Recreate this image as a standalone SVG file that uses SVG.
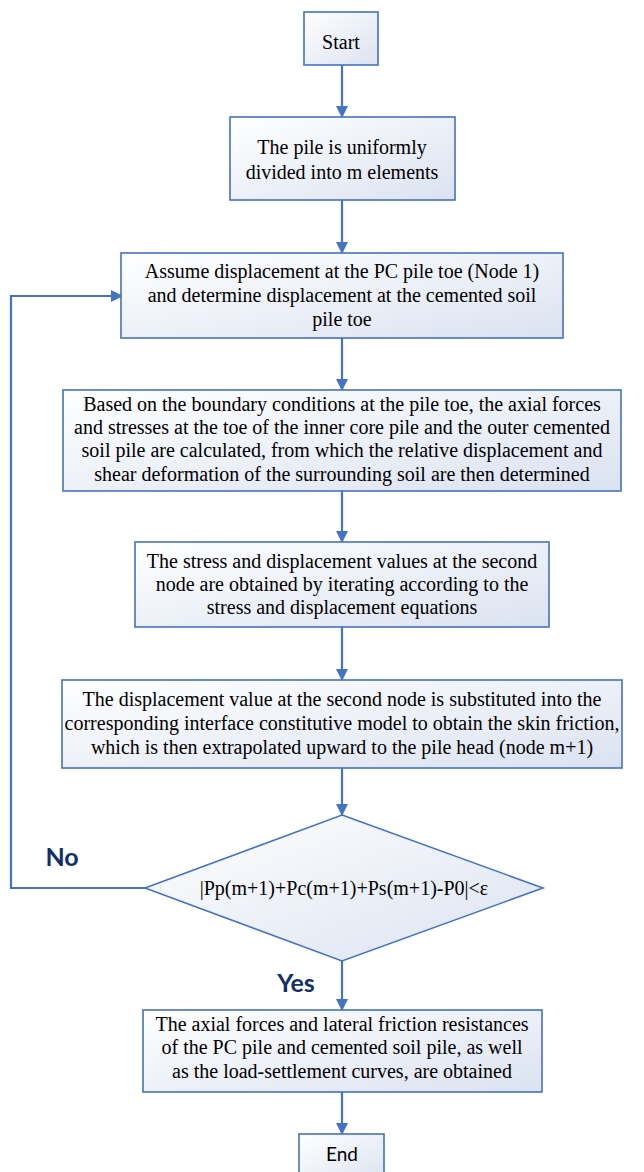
<svg xmlns="http://www.w3.org/2000/svg" width="644" height="1172" viewBox="0 0 644 1172">
<defs>
<linearGradient id="g" x1="0" y1="0" x2="1" y2="1">
<stop offset="0" stop-color="#ffffff"/>
<stop offset="1" stop-color="#dbe2f0"/>
</linearGradient>
<marker id="ah" markerWidth="12" markerHeight="12" refX="11" refY="6" orient="auto" markerUnits="userSpaceOnUse">
<path d="M0,0 L12,6 L0,12 Z" fill="#4472C4"/>
</marker>
<style>
.box{fill:url(#g);stroke:#4472C4;stroke-width:1.6}
.t{font-size:20px;fill:#000;text-anchor:middle}
.s{fill:#000;text-anchor:middle}
.lab{font-weight:bold;font-size:25px;fill:#132F6B;text-anchor:middle}
.c{fill:none;stroke:#4472C4;stroke-width:2.2}
</style>
</defs>
<g id="connectors">
<path class="c" d="M342,65 V117" marker-end="url(#ah)"/>
<path class="c" d="M342,200 V253" marker-end="url(#ah)"/>
<path class="c" d="M342,338 V390" marker-end="url(#ah)"/>
<path class="c" d="M342,491 V542" marker-end="url(#ah)"/>
<path class="c" d="M342,627 V680" marker-end="url(#ah)"/>
<path class="c" d="M342,768 V815" marker-end="url(#ah)"/>
<path class="c" d="M342,961 V1010" marker-end="url(#ah)"/>
<path class="c" d="M342,1092 V1134" marker-end="url(#ah)"/>
<path class="c" d="M145,888 H11 V296 H122" marker-end="url(#ah)"/>
<g font-family="Lato, 'Liberation Sans', sans-serif">
<text class="lab" x="62" y="866">No</text>
<text class="lab" x="296" y="992">Yes</text>
</g>
</g>
<g font-family="'Liberation Serif', 'DejaVu Serif', serif">
<g id="start">
<rect class="box" x="304" y="12" width="74" height="53"/>
<text class="t" x="341" y="49">Start</text>
</g>
<g id="divide">
<rect class="box" x="230" y="117" width="225" height="83"/>
<text class="t" x="342" y="154">The pile is uniformly</text>
<text class="t" x="342" y="179">divided into m elements</text>
</g>
<g id="assume">
<rect class="box" x="121" y="253" width="442" height="85"/>
<text class="t" x="342" y="278">Assume displacement at the PC pile toe (Node 1)</text>
<text class="t" x="342" y="302">and determine displacement at the cemented soil</text>
<text class="t" x="342" y="326">pile toe</text>
</g>
<g id="boundary">
<rect class="box" x="63" y="390" width="558" height="101"/>
<text class="t" x="342" y="411">Based on the boundary conditions at the pile toe, the axial forces</text>
<text class="t" x="342" y="434">and stresses at the toe of the inner core pile and the outer cemented</text>
<text class="t" x="342" y="457">soil pile are calculated, from which the relative displacement and</text>
<text class="t" x="342" y="481">shear deformation of the surrounding soil are then determined</text>
</g>
<g id="iterate">
<rect class="box" x="135" y="542" width="414" height="85"/>
<text class="t" x="342" y="568">The stress and displacement values at the second</text>
<text class="t" x="342" y="591">node are obtained by iterating according to the</text>
<text class="t" x="342" y="614">stress and displacement equations</text>
</g>
<g id="friction">
<rect class="box" x="62" y="680" width="560" height="88"/>
<text class="t" x="342" y="706">The displacement value at the second node is substituted into the</text>
<text class="t" x="342" y="730">corresponding interface constitutive model to obtain the skin friction,</text>
<text class="t" x="342" y="754">which is then extrapolated upward to the pile head (node m+1)</text>
</g>
<g id="check">
<path class="box" d="M342,815 L543,888 L342,961 L145,888 Z"/>
<text class="t" x="344" y="895">|Pp(m+1)+Pc(m+1)+Ps(m+1)-P0|&lt;ε</text>
</g>
<g id="result">
<rect class="box" x="143" y="1010" width="399" height="82"/>
<text class="t" x="342" y="1031">The axial forces and lateral friction resistances</text>
<text class="t" x="342" y="1054">of the PC pile and cemented soil pile, as well</text>
<text class="t" x="342" y="1078">as the load-settlement curves, are obtained</text>
</g>
</g>
<g id="end">
<rect class="box" x="299" y="1134" width="85" height="50"/>
<text class="s" x="342" y="1161" font-size="19" font-family="Lato, 'Liberation Sans', sans-serif">End</text>
</g>
</svg>
